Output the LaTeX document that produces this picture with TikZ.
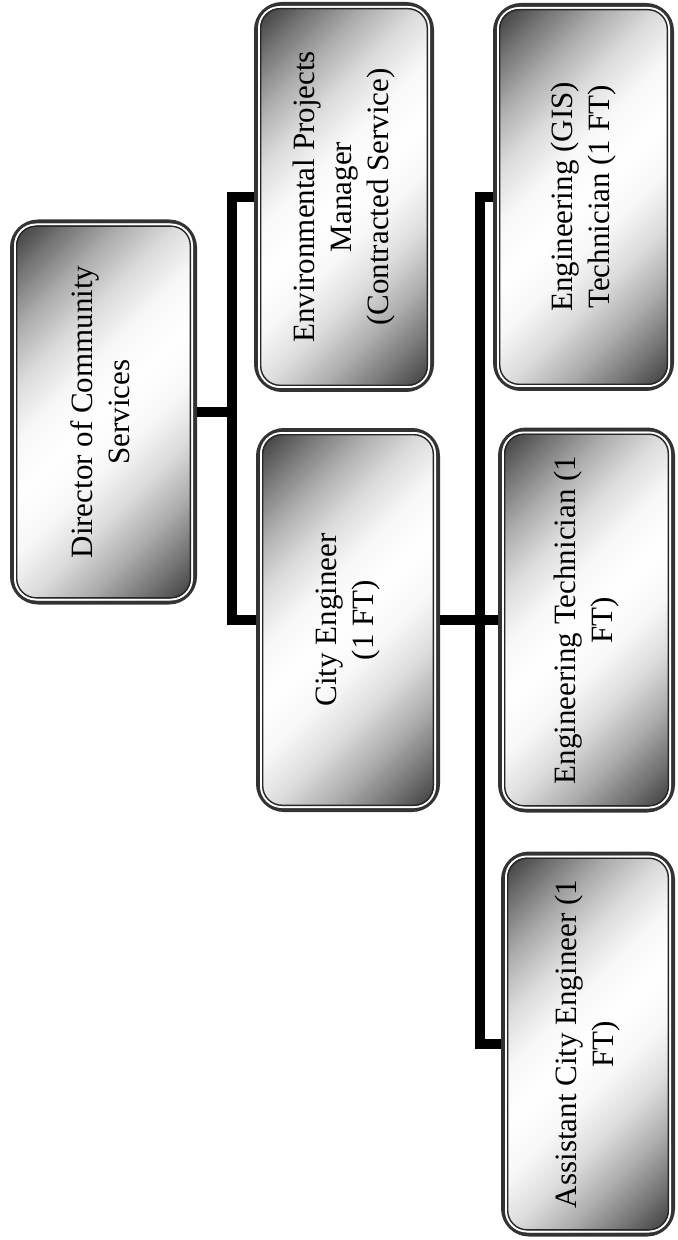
\documentclass[tikz,border=0pt]{standalone}
\usepackage{graphicx}
\usepackage{fontspec}
\setmainfont{Liberation Serif}
\pgfdeclareverticalshading{diagbox}{100bp}{%
  color(0bp)=(black!80); color(14.64bp)=(black!80); color(21.7bp)=(black!55);
  color(28.8bp)=(black!32); color(35.9bp)=(black!14); color(42.9bp)=(black!3);
  color(50bp)=(white); color(57.1bp)=(black!3); color(64.1bp)=(black!14);
  color(71.2bp)=(black!32); color(78.3bp)=(black!55); color(85.36bp)=(black!80);
  color(100bp)=(black!80)}
\tikzset{
  orgbox/.style={rounded corners=13pt, draw=black!80, line width=2pt,
    shading=diagbox, shading angle=45, inner sep=0pt, text=black,
    font=\fontsize{15.5}{18.5}\selectfont},
  innerwhite/.style={draw=white, line width=1pt, rounded corners=10.5pt},
  innerdark/.style={draw=black!85, line width=0.7pt, rounded corners=9.7pt},
  conn/.style={draw=black, line width=5pt}
}
\newcommand{\orgbox}[6]{%
  \node[orgbox, minimum width=#4*0.5pt-2pt, minimum height=#5*0.5pt-2pt] (#1) at (#2,#3)
    {\rotatebox{90}{\begin{tabular}{@{}c@{}}#6\end{tabular}}};
  \draw[innerwhite] ([shift={(2.5pt,2.5pt)}]#1.south west) rectangle ([shift={(-2.5pt,-2.5pt)}]#1.north east);
  \draw[innerdark] ([shift={(3.35pt,3.35pt)}]#1.south west) rectangle ([shift={(-3.35pt,-3.35pt)}]#1.north east);
}
\begin{document}
\begin{tikzpicture}[x=0.5pt, y=-0.5pt]
\useasboundingbox (0,0) rectangle (677,1240);
\fill[white] (0,0) rectangle (677,1240);
\coordinate (lbar) at (232,0);
\coordinate (rbar) at (480,0);
\orgbox{dir}{103.5}{412}{187}{385}{Director of Community\\Services}
\orgbox{env}{344}{197}{180}{390}{Environmental Projects\\Manager\\(Contracted Service)}
\orgbox{city}{348}{620}{184}{384}{City Engineer\\(1 FT)}
\orgbox{gis}{583.5}{197}{181}{388}{Engineering (GIS)\\Technician (1 FT)}
\orgbox{tech}{586.5}{620}{177}{385}{Engineering Technician (1\\FT)}
\orgbox{asst}{588}{1044}{174}{385}{Assistant City Engineer (1\\FT)}
% connectors
\draw[conn] (dir.east) -- (dir.east -| lbar);
\draw[conn] (env.west) -- (env.west -| lbar) -- (city.west -| lbar) -- (city.west);
\draw[conn] (city.east) -- (tech.west);
\draw[conn] (gis.west) -- (gis.west -| rbar) -- (asst.west -| rbar) -- (asst.west);
\end{tikzpicture}
\end{document}
